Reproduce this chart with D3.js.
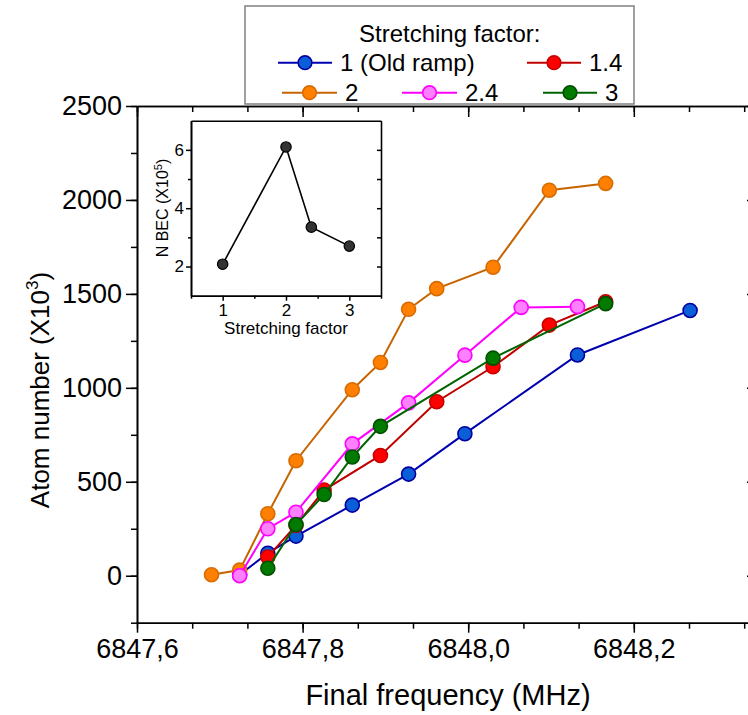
<!DOCTYPE html>
<html>
<head>
<meta charset="utf-8">
<script src="https://cdn.jsdelivr.net/npm/d3@7"></script>
<style>
  body { margin: 0; background: #fff; }
  svg { display: block; font-family: "Liberation Sans", Arial, sans-serif; }
</style>
</head>
<body>
<div id="chart"></div>
<script>
// series data: final frequency (MHz) and atom number (x10^3)
const seriesNames = ["1 (Old ramp)", "1.4", "2", "2.4", "3"];

const freq1 = [6847.724, 6847.758, 6847.792, 6847.86, 6847.928, 6847.996, 6848.132, 6848.268];
const atoms1 = [5, 120, 211, 376, 541, 756, 1175, 1412];

const freq14 = [6847.758, 6847.792, 6847.826, 6847.894, 6847.962, 6848.03, 6848.098, 6848.166];
const atoms14 = [100, 268, 456, 640, 926, 1112, 1334, 1458];

const freq2 = [6847.69, 6847.724, 6847.758, 6847.792, 6847.86, 6847.894, 6847.928, 6847.962, 6848.03, 6848.098, 6848.166];
const atoms2 = [5, 30, 330, 612, 990, 1135, 1418, 1528, 1642, 2052, 2088];

const freq24 = [6847.724, 6847.758, 6847.792, 6847.86, 6847.928, 6847.996, 6848.064, 6848.132];
const atoms24 = [0, 250, 338, 702, 920, 1174, 1428, 1432];

const freq3 = [6847.758, 6847.792, 6847.826, 6847.86, 6847.894, 6848.03, 6848.166];
const atoms3 = [40, 272, 432, 632, 795, 1158, 1448];

// inset: condensate number (x10^5) vs stretching factor
const stretchFactors = [1, 2, 2.4, 3];
const nBEC = [2.08, 6.1, 3.35, 2.7];

const xTickValues = [6847.6, 6847.8, 6848.0, 6848.2];
const yTickValues = [0, 500, 1000, 1500, 2000, 2500];
const insetXTicks = [1, 2, 3];
const insetYTicks = [2, 4, 6];

// styles per series (line colour, marker fill, marker stroke)
const styles = [
    { line: "#0000b0", fill: "#0a5fd8", stroke: "#0000a0" },
    { line: "#c00000", fill: "#ff0000", stroke: "#c80000" },
    { line: "#c86400", fill: "#ff8000", stroke: "#d86c00" },
    { line: "#ff00ff", fill: "#ff80ff", stroke: "#ff00ff" },
    { line: "#006400", fill: "#007a00", stroke: "#005000" }
];
const series = [
    { name: seriesNames[0], x: freq1, y: atoms1 },
    { name: seriesNames[1], x: freq14, y: atoms14 },
    { name: seriesNames[2], x: freq2, y: atoms2 },
    { name: seriesNames[3], x: freq24, y: atoms24 },
    { name: seriesNames[4], x: freq3, y: atoms3 }
].map((s, i) => ({ ...s, style: styles[i], points: s.x.map((v, j) => ({ x: v, y: s.y[j] })) }));

const width = 748, height = 715;
const svg = d3.select("#chart").append("svg")
    .attr("width", width)
    .attr("height", height);

// main plot area
const plot = { left: 137, right: 758, top: 106, bottom: 622.7 };

const x = d3.scaleLinear().domain([6847.6, 6848.35]).range([plot.left, plot.right]);
const y = d3.scaleLinear().domain([-250, 2500]).range([plot.bottom, plot.top]);

const fmtComma = d => d3.format(".1f")(d).replace(".", ",");
const minorX = d3.range(0, 12).map(i => 6847.6 + i * 0.2 / 3);
const minorY = d3.range(-250, 2501, 250);

function styleAxis(g, fontSize) {
    g.select(".domain").attr("stroke", "#000").attr("stroke-width", 1.6);
    g.selectAll(".tick line").attr("stroke", "#000").attr("stroke-width", 1.5);
    g.selectAll(".tick text").attr("fill", "#000").style("font-size", fontSize + "px")
        .style("font-family", "'Liberation Sans', Arial, sans-serif");
}

// bottom axis
const xAxisG = svg.append("g").attr("transform", `translate(0,${plot.bottom})`)
    .call(d3.axisBottom(x).tickValues(xTickValues).tickFormat(fmtComma).tickSize(10).tickSizeOuter(0).tickPadding(6));
styleAxis(xAxisG, 27);
svg.append("g").attr("transform", `translate(0,${plot.bottom})`)
    .call(d3.axisBottom(x).tickValues(minorX).tickFormat("").tickSize(6).tickSizeOuter(0))
    .call(g => styleAxis(g, 10));

// top axis, ticks inward
svg.append("g").attr("transform", `translate(0,${plot.top})`)
    .call(d3.axisBottom(x).tickValues(xTickValues).tickFormat("").tickSize(11).tickSizeOuter(0))
    .call(g => styleAxis(g, 10));
svg.append("g").attr("transform", `translate(0,${plot.top})`)
    .call(d3.axisBottom(x).tickValues(minorX).tickFormat("").tickSize(6).tickSizeOuter(0))
    .call(g => styleAxis(g, 10));

// left axis
const yAxisG = svg.append("g").attr("transform", `translate(${plot.left},0)`)
    .call(d3.axisLeft(y).tickValues(yTickValues).tickFormat(d3.format("d")).tickSize(11).tickSizeOuter(0).tickPadding(4));
styleAxis(yAxisG, 27);
svg.append("g").attr("transform", `translate(${plot.left},0)`)
    .call(d3.axisLeft(y).tickValues(minorY).tickFormat("").tickSize(6).tickSizeOuter(0))
    .call(g => styleAxis(g, 10));

// right axis, ticks inward (mostly off the page)
svg.append("g").attr("transform", `translate(${plot.right},0)`)
    .call(d3.axisLeft(y).tickValues(yTickValues).tickFormat("").tickSize(11).tickSizeOuter(0))
    .call(g => styleAxis(g, 10));

// axis titles
svg.append("text")
    .attr("x", 448).attr("y", 705)
    .attr("text-anchor", "middle")
    .style("font-size", "29px")
    .text("Final frequency (MHz)");

const yTitle = svg.append("text")
    .attr("transform", "translate(49,390) rotate(-90)")
    .attr("text-anchor", "middle")
    .style("font-size", "26px");
yTitle.append("tspan").text("Atom number (X10");
yTitle.append("tspan").attr("dy", -11).style("font-size", "17px").text("3");
yTitle.append("tspan").attr("dy", 11).text(")");

// data series
const line = d3.line().x(d => x(d.x)).y(d => y(d.y));
series.forEach(s => {
    const g = svg.append("g");
    g.append("path")
        .datum(s.points)
        .attr("d", line)
        .attr("fill", "none")
        .attr("stroke", s.style.line)
        .attr("stroke-width", 2);
    g.selectAll("circle")
        .data(s.points)
        .enter()
        .append("circle")
        .attr("cx", d => x(d.x))
        .attr("cy", d => y(d.y))
        .attr("r", 7)
        .attr("fill", s.style.fill)
        .attr("stroke", s.style.stroke)
        .attr("stroke-width", 1.6);
});

// legend
const legendItems = [
    { x0: 278, x1: 332, row: 62.7 },
    { x0: 527, x1: 581, row: 62.7 },
    { x0: 282, x1: 337, row: 92.7 },
    { x0: 402, x1: 457, row: 92.7 },
    { x0: 543, x1: 597, row: 92.7 }
];
svg.append("rect")
    .attr("x", 245).attr("y", 6)
    .attr("width", 389).attr("height", 98)
    .attr("fill", "#fff")
    .attr("stroke", "#808080")
    .attr("stroke-width", 1.5);
svg.append("text")
    .attr("x", 359).attr("y", 42)
    .style("font-size", "24px")
    .text("Stretching factor:");
series.forEach((s, i) => {
    const it = legendItems[i];
    const g = svg.append("g");
    g.append("line")
        .attr("x1", it.x0).attr("x2", it.x1)
        .attr("y1", it.row).attr("y2", it.row)
        .attr("stroke", s.style.line).attr("stroke-width", 2);
    g.append("circle")
        .attr("cx", (it.x0 + it.x1) / 2).attr("cy", it.row)
        .attr("r", 6.8)
        .attr("fill", s.style.fill)
        .attr("stroke", s.style.stroke)
        .attr("stroke-width", 1.6);
    g.append("text")
        .attr("x", it.x1 + 8).attr("y", it.row)
        .attr("dy", "0.35em")
        .style("font-size", "24px")
        .text(s.name);
});

// inset
const inset = { left: 191, right: 381, top: 120.7, bottom: 295.7 };
const ix = d3.scaleLinear().domain([0.5, 3.5]).range([inset.left, inset.right]);
const iy = d3.scaleLinear().domain([1, 7]).range([inset.bottom, inset.top]);

svg.append("rect")
    .attr("x", inset.left).attr("y", inset.top)
    .attr("width", inset.right - inset.left).attr("height", inset.bottom - inset.top)
    .attr("fill", "#fff");

const inX = svg.append("g").attr("transform", `translate(0,${inset.bottom})`)
    .call(d3.axisBottom(ix).tickValues(insetXTicks).tickFormat(d3.format("d")).tickSize(5).tickSizeOuter(0).tickPadding(3));
styleAxis(inX, 17);
svg.append("g").attr("transform", `translate(0,${inset.bottom})`)
    .call(d3.axisBottom(ix).tickValues([0.5, 1.5, 2.5, 3.5]).tickFormat("").tickSize(3).tickSizeOuter(0))
    .call(g => styleAxis(g, 10));
svg.append("g").attr("transform", `translate(0,${inset.top})`)
    .call(d3.axisTop(ix).tickValues([]).tickSizeOuter(0))
    .call(g => styleAxis(g, 10));

const inY = svg.append("g").attr("transform", `translate(${inset.left},0)`)
    .call(d3.axisLeft(iy).tickValues(insetYTicks).tickFormat(d3.format("d")).tickSize(5).tickSizeOuter(0).tickPadding(2));
styleAxis(inY, 17);
svg.append("g").attr("transform", `translate(${inset.left},0)`)
    .call(d3.axisLeft(iy).tickValues([3, 5]).tickFormat("").tickSize(3).tickSizeOuter(0))
    .call(g => styleAxis(g, 10));
svg.append("g").attr("transform", `translate(${inset.right},0)`)
    .call(d3.axisRight(iy).tickValues([2, 3, 4, 5, 6]).tickFormat("").tickSize(-4).tickSizeOuter(0))
    .call(g => styleAxis(g, 10));

svg.append("text")
    .attr("x", (inset.left + inset.right) / 2).attr("y", 334)
    .attr("text-anchor", "middle")
    .style("font-size", "17px")
    .text("Stretching factor");

const iyTitle = svg.append("text")
    .attr("transform", "translate(168,208) rotate(-90)")
    .attr("text-anchor", "middle")
    .style("font-size", "16px");
iyTitle.append("tspan").text("N BEC (X10");
iyTitle.append("tspan").attr("dy", -6).style("font-size", "11px").text("5");
iyTitle.append("tspan").attr("dy", 6).text(")");

const insetPts = stretchFactors.map((v, i) => ({ x: v, y: nBEC[i] }));
svg.append("path")
    .datum(insetPts)
    .attr("d", d3.line().x(d => ix(d.x)).y(d => iy(d.y)))
    .attr("fill", "none")
    .attr("stroke", "#000")
    .attr("stroke-width", 1.6);
svg.selectAll(".insetDot")
    .data(insetPts)
    .enter()
    .append("circle")
    .attr("class", "insetDot")
    .attr("cx", d => ix(d.x))
    .attr("cy", d => iy(d.y))
    .attr("r", 5.2)
    .attr("fill", "#333")
    .attr("stroke", "#000")
    .attr("stroke-width", 1.2);
</script>
</body>
</html>
